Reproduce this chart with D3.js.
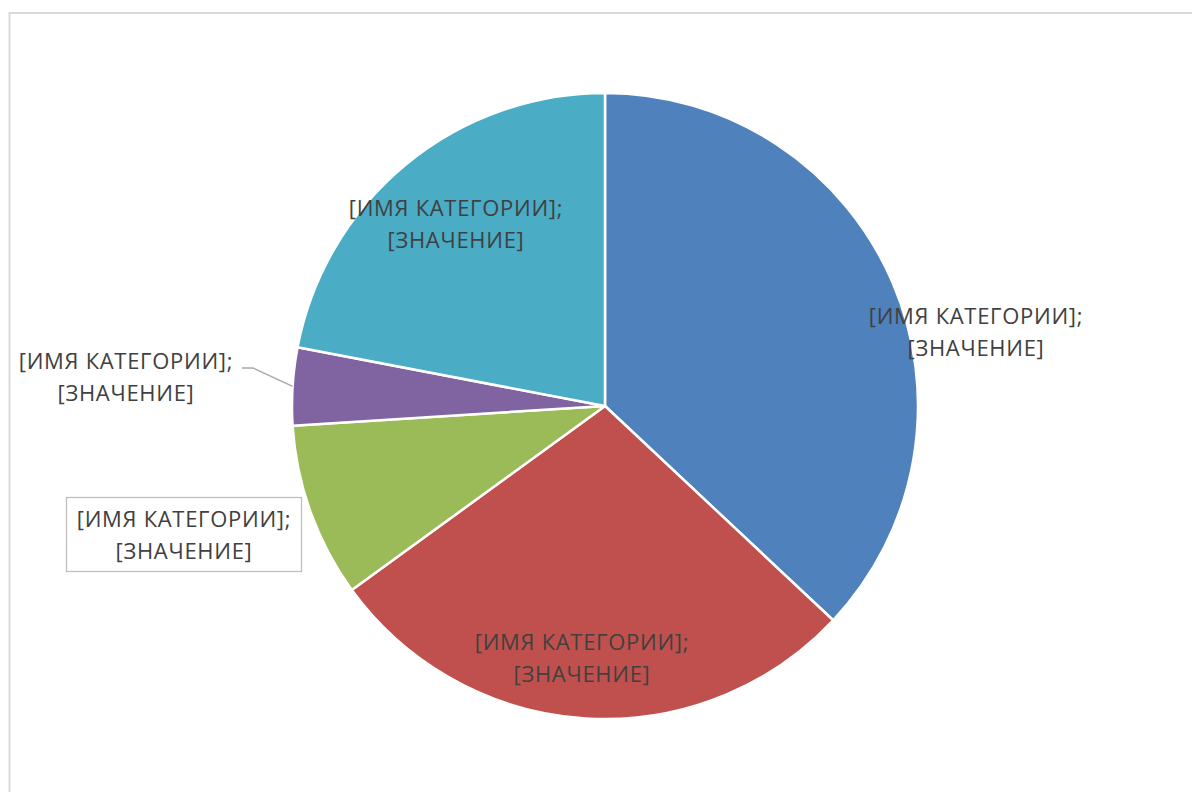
<!DOCTYPE html>
<html>
<head>
<meta charset="utf-8">
<script src="https://cdn.jsdelivr.net/npm/d3@7"></script>
<style>
  body { margin: 0; background: #fff; }
  text { font-family: "Open Sans", "Noto Sans", sans-serif; fill: #404040; }
</style>
</head>
<body>
<div id="chart"></div>
<script>
// data (percent of the whole)
var categories = ["A", "B", "C", "D", "E"];
var values = [37, 28, 9, 4, 22];
var colors = ["#4f81bd", "#c0504d", "#9bbb59", "#8064a2", "#4bacc6"];
var labelLine1 = "[ИМЯ КАТЕГОРИИ];";
var labelLine2 = "[ЗНАЧЕНИЕ]";

// where each data label sits, relative to pie centre
var labelOffsets = [[371, -74], [-23, 252], [-421, 129], [-479, -29], [-149, -182]];

var w = 1192, h = 792;
var cx = 605, cy = 406, r = 313;

var svg = d3.select("#chart").append("svg")
  .attr("width", w).attr("height", h);

// chart frame
svg.append("rect")
  .attr("x", 9.5).attr("y", 13)
  .attr("width", w + 20).attr("height", h + 20)
  .attr("fill", "none")
  .attr("stroke", "#d9d9d9")
  .attr("stroke-width", 2);

var pie = d3.pie().sort(null).value(d => d.v);
var arcs = pie(categories.map((c, i) => ({ name: c, v: values[i], i: i })));
var arc = d3.arc().innerRadius(0).outerRadius(r);

var g = svg.append("g").attr("transform", "translate(" + cx + "," + cy + ")");

g.selectAll("path")
  .data(arcs)
  .enter()
  .append("path")
  .attr("d", arc)
  .attr("fill", d => colors[d.data.i])
  .attr("stroke", "#fff")
  .attr("stroke-width", 2.5)
  .attr("stroke-linejoin", "round");

// leader line for the small purple slice
var purple = arcs[3];
var midA = (purple.startAngle + purple.endAngle) / 2;
var px = Math.sin(midA) * r, py = -Math.cos(midA) * r;
g.append("polyline")
  .attr("points", [[labelOffsets[3][0] + 116, labelOffsets[3][1] - 9], [labelOffsets[3][0] + 127, labelOffsets[3][1] - 9], [px, py]].join(" "))
  .attr("fill", "none")
  .attr("stroke", "#a6a6a6")
  .attr("stroke-width", 1.3);

// boxed label for the green slice
g.append("rect")
  .attr("x", labelOffsets[2][0] - 117.5)
  .attr("y", labelOffsets[2][1] - 37.5)
  .attr("width", 235).attr("height", 74)
  .attr("fill", "#fff")
  .attr("stroke", "#bfbfbf")
  .attr("stroke-width", 1.3);

var labels = g.selectAll("g.lab")
  .data(arcs)
  .enter()
  .append("g")
  .attr("class", "lab")
  .attr("transform", d => "translate(" + labelOffsets[d.data.i][0] + "," + labelOffsets[d.data.i][1] + ")");

labels.append("text")
  .attr("text-anchor", "middle")
  .attr("y", -8)
  .attr("font-size", 22)
  .attr("letter-spacing", 0.7)
  .text(labelLine1);
labels.append("text")
  .attr("text-anchor", "middle")
  .attr("y", 24)
  .attr("font-size", 22)
  .attr("letter-spacing", 0.7)
  .text(labelLine2);
</script>
</body>
</html>
